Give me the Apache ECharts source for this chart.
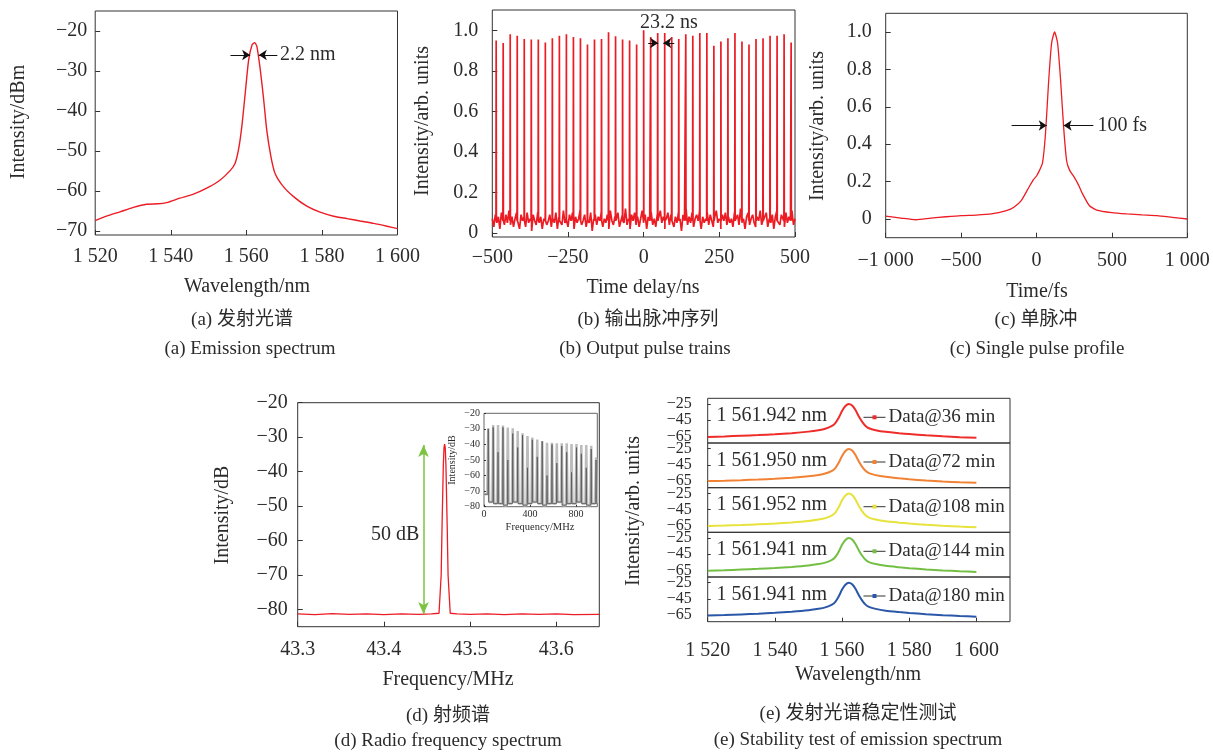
<!DOCTYPE html>
<html><head><meta charset="utf-8">
<script src="https://cdn.jsdelivr.net/npm/echarts@6/dist/echarts.min.js"></script>
<style>html,body{margin:0;padding:0;background:#fff}#c{width:1213px;height:753px}</style>
</head><body><div id="c"></div>
<script>
const SERIF = '"Liberation Serif","Times New Roman",serif';
const CJK = '"Liberation Serif","Noto Sans CJK SC",serif';
const TXT = '#2b2b2b';
const RED = '#ec1c24';

// ---------- (a) emission spectrum ----------
const aWavelength = [1520,1523,1526.6,1530.1,1533.6,1536.7,1538.9,1542.4,1546,1549.5,1553,1555.7,1557,1557.9,1558.8,1559.7,1560.6,1561.5,1562.2,1562.8,1563.7,1564.6,1565.4,1566.5,1567.6,1569.8,1572.5,1576,1579.5,1583.1,1586.6,1590.1,1593.7,1597.2,1600];
const aIntensity = [-67.4,-66.3,-65.2,-64.1,-63.3,-63.2,-62.9,-61.8,-60.8,-59.3,-57.3,-54.9,-53.1,-49.8,-43.9,-35.6,-27.3,-23.5,-22.9,-23.9,-29.8,-37.3,-44.8,-51.4,-55.6,-58.9,-61.4,-63.8,-65.3,-66.3,-66.9,-67.5,-68.1,-68.8,-69.4];
const aXTicks = [1520,1540,1560,1580,1600];
const aYTicks = [-70,-60,-50,-40,-30,-20];

// ---------- (b) output pulse train ----------
const bPulseTimes = [-487.2,-464.0,-440.8,-417.6,-394.4,-371.2,-348.0,-324.8,-301.6,-278.4,-255.2,-232.0,-208.8,-185.6,-162.4,-139.2,-116.0,-92.8,-69.6,-46.4,-23.2,0,23.2,46.4,69.6,92.8,116.0,139.2,162.4,185.6,208.8,232.0,255.2,278.4,301.6,324.8,348.0,371.2,394.4,417.6,440.8,464.0,487.2];
const bPulseHeights = [0.95,0.937,0.98,0.973,0.957,0.954,0.954,0.94,0.96,0.973,0.98,0.967,0.96,0.93,0.954,0.957,0.99,0.97,0.954,0.95,0.93,1.0,0.967,0.987,0.987,0.967,0.957,0.98,0.973,0.987,0.987,0.924,0.944,0.96,0.987,0.944,0.93,0.957,0.96,0.973,0.973,0.98,0.94];
const bNoiseStart = -500, bNoiseStep = 5;
const bNoise = [
0.07,0.03,0.09,0.05,0.08,0.02,0.10,0.06,0.04,0.09,
0.05,0.11,0.04,0.08,0.03,0.07,0.10,0.05,0.02,0.09,
0.06,0.08,0.03,0.10,0.05,0.07,0.01,0.09,0.06,0.04,
0.10,0.05,0.08,0.02,0.07,0.11,0.04,0.06,0.09,0.03,
0.07,0.05,0.10,0.02,0.08,0.06,0.04,0.11,0.05,0.07,
0.03,0.09,0.06,0.10,0.02,0.08,0.05,0.07,0.11,0.04,
0.06,0.09,0.03,0.08,0.05,0.10,0.01,0.07,0.09,0.04,
0.08,0.06,0.10,0.03,0.07,0.05,0.09,0.02,0.11,0.06,
0.04,0.08,0.07,0.10,0.03,0.06,0.09,0.05,0.12,0.04,
0.07,0.02,0.09,0.06,0.10,0.04,0.08,0.03,0.07,0.11,
0.05,0.09,0.02,0.08,0.06,0.10,0.04,0.07,0.03,0.09,
0.06,0.11,0.05,0.08,0.02,0.07,0.10,0.04,0.09,0.06,
0.03,0.08,0.05,0.10,0.07,0.01,0.09,0.06,0.12,0.04,
0.08,0.05,0.10,0.03,0.07,0.09,0.06,0.11,0.02,0.08,
0.05,0.07,0.10,0.04,0.09,0.06,0.03,0.08,0.11,0.05,
0.07,0.02,0.09,0.06,0.10,0.04,0.08,0.05,0.07,0.03,
0.10,0.06,0.09,0.04,0.12,0.05,0.07,0.02,0.08,0.10,
0.04,0.07,0.09,0.05,0.03,0.08,0.06,0.11,0.04,0.09,
0.06,0.10,0.03,0.07,0.05,0.09,0.02,0.08,0.11,0.06,
0.04,0.09,0.07,0.03,0.10,0.05,0.08,0.06,0.11,0.04,
0.07];
const bXTicks = [-500,-250,0,250,500];
const bYTicks = [0,0.2,0.4,0.6,0.8,1.0];

// ---------- (c) single pulse ----------
const cTime = [-1000,-900,-800,-700,-600,-500,-400,-300,-200,-150,-100,-50,-20,0,20,40,60,80,100,120,140,160,180,200,220,250,280,300,350,400,500,600,700,800,900,1000];
const cIntensity = [0.015,0.005,-0.004,0.005,0.012,0.018,0.021,0.027,0.045,0.063,0.10,0.17,0.21,0.23,0.26,0.30,0.46,0.73,0.94,1.0,0.94,0.74,0.49,0.31,0.26,0.224,0.18,0.143,0.072,0.048,0.034,0.027,0.022,0.018,0.009,0.0];
const cXTicks = [-1000,-500,0,500,1000];
const cYTicks = [0,0.2,0.4,0.6,0.8,1.0];

// ---------- (d) RF spectrum ----------
const dFreq = [43.30,43.32,43.34,43.36,43.38,43.40,43.42,43.44,43.455,43.464,43.4665,43.4675,43.469,43.4698,43.4705,43.4712,43.472,43.4735,43.4745,43.477,43.485,43.50,43.52,43.54,43.56,43.58,43.60,43.62,43.65];
const dIntensity = [-81.3,-81.5,-81.2,-81.4,-81.3,-81.5,-81.3,-81.4,-81.3,-81.1,-70,-56,-38,-33,-32,-33,-38,-56,-70,-81.1,-81.3,-81.4,-81.3,-81.5,-81.3,-81.4,-81.3,-81.5,-81.4];
const dXTicks = [43.3,43.4,43.5,43.6];
const dYTicks = [-80,-70,-60,-50,-40,-30,-20];
// inset: wide-span RF comb
const inFreq = [37,80,122,165,207,250,293,335,378,420,463,506,548,591,633,676,719,761,804,846,889,932,974];
const inGrayPeak = [-29.6,-27.5,-27.5,-27.8,-29.2,-29.6,-31.4,-32.9,-34.6,-35.5,-36.8,-37.8,-38.9,-38.9,-39.3,-39.3,-39.3,-39.7,-39.7,-40.4,-40.4,-40.8,-48.3];
const inDarkPeak = [-30,-29,-45,-29,-50,-33,-42,-34,-55,-37,-48,-38,-60,-40,-52,-41,-45,-58,-42,-46,-55,-43,-50];
const inBase = [-72,-77,-78,-78,-79,-78,-77,-78,-79,-78,-77,-78,-79,-78,-78,-77,-79,-78,-78,-77,-78,-79,-78,-78];
const inXTicks = [0,400,800];
const inYTicks = [-80,-70,-60,-50,-40,-30,-20];

// ---------- (e) stability test ----------
const eWavelength = [1520,1525,1530,1535,1540,1545,1550,1553,1555,1557,1558,1559,1560,1561,1562,1563,1564,1565,1566,1567,1568,1570,1573,1577,1580,1585,1590,1595,1600];
const e36  = [-65.6,-64.9,-64.1,-63.2,-62.2,-60.9,-59.0,-57.2,-55.4,-52.0,-48.5,-42.0,-33.5,-27.5,-25.0,-27.0,-32.5,-40.5,-47.0,-52.0,-54.8,-57.2,-59.3,-61.0,-62.0,-63.6,-64.8,-65.8,-66.6];
const e72  = [-64.9,-64.4,-63.7,-62.9,-62.0,-60.8,-59.0,-57.3,-55.6,-52.3,-48.8,-42.4,-34.0,-27.8,-25.3,-27.3,-32.8,-40.8,-47.3,-52.2,-55.0,-57.5,-59.6,-61.4,-62.6,-64.2,-65.4,-66.3,-67.0];
const e108 = [-65.2,-64.7,-64.0,-63.1,-62.1,-60.8,-59.0,-57.2,-55.5,-52.1,-48.6,-42.1,-33.6,-27.6,-25.1,-27.1,-32.6,-40.6,-47.1,-52.1,-54.9,-57.3,-59.4,-61.1,-62.2,-63.8,-65.0,-66.0,-66.8];
const e144 = [-65.3,-64.7,-63.9,-63.0,-62.0,-60.7,-58.9,-57.1,-55.3,-51.9,-48.4,-41.9,-33.4,-27.4,-24.9,-26.9,-32.4,-40.4,-46.9,-51.9,-54.7,-57.1,-59.3,-61.0,-62.1,-63.7,-64.9,-65.9,-66.7];
const e180 = [-65.4,-64.8,-64.0,-63.1,-62.1,-60.8,-59.0,-57.2,-55.4,-52.0,-48.5,-42.0,-33.5,-27.5,-25.0,-27.0,-32.5,-40.5,-47.0,-52.0,-54.8,-57.2,-59.4,-61.1,-62.2,-63.8,-65.0,-66.0,-66.8];
const eNames = ['Data@36 min','Data@72 min','Data@108 min','Data@144 min','Data@180 min'];
const ePeakLabels = ['1 561.942 nm','1 561.950 nm','1 561.952 nm','1 561.941 nm','1 561.941 nm'];
const eColors = ['#ee2d2a','#f18234','#e8e23c','#72bf44','#2a57a8'];
const eXTicks = [1520,1540,1560,1580,1600];
const eYTicks = [-65,-45,-25];

// ---------- helpers ----------
function fmt(v, dec) {
  let s = Math.abs(v).toFixed(dec);
  const p = s.split('.');
  p[0] = p[0].replace(/\B(?=(\d{3})+(?!\d))/g, ' ');
  s = p.join('.');
  return (v < 0 ? '\u2212' : '') + s;
}
const fmt0 = v => fmt(v, 0);
const fmt1 = v => fmt(v, 1);
const fmtU = v => (Math.abs(v) < 1e-9 ? '0' : fmt(v, 1));
const zip = (xs, ys) => xs.map((x, i) => [x, ys[i]]);

const grids = [
  {left:95.2, top:11, width:302.3, height:224},     // a
  {left:492.3, top:10, width:302.7, height:227},    // b
  {left:885.7, top:13.3, width:301.6, height:224.4},// c
  {left:297.7, top:402.7, width:301.6, height:224}, // d
  {left:484, top:413.3, width:113.3, height:93.4},  // inset
  {left:707.7, top:398.3, width:302.3, height:44.7},
  {left:707.7, top:443.0, width:302.3, height:44.7},
  {left:707.7, top:487.7, width:302.3, height:44.6},
  {left:707.7, top:532.3, width:302.3, height:44.7},
  {left:707.7, top:577.0, width:302.3, height:44.7}
].map((g, i) => Object.assign({show:true, borderColor: i === 4 ? '#666' : '#333', borderWidth:1, backgroundColor:'transparent', containLabel:false, outerBoundsMode:'none'}, g));

function axis(gridIndex, min, max, ticks, formatter, o) {
  o = o || {};
  return {
    type:'value', gridIndex, min, max, scale:true,
    axisLine:{show:false, onZero:false},
    splitLine:{show:false},
    axisTick:{show: o.tick !== false, inside:true, length: o.tickLen || 5, customValues: ticks, lineStyle:{color:'#333', width:1}},
    axisLabel:{show: o.label !== false, customValues: ticks, formatter, margin: o.margin || 10,
      hideOverlap:false, showMinLabel:true, showMaxLabel:true,
      color: TXT, fontSize: o.fs || 20, fontFamily: SERIF}
  };
}

const xAxes = [
  axis(0, 1520, 1600, aXTicks, fmt0, {margin:12}),
  axis(1, -500, 500, bXTicks, fmt0, {margin:11}),
  axis(2, -1000, 1000, cXTicks, fmt0, {margin:13}),
  axis(3, 43.3, 43.65, dXTicks, fmt1, {margin:13}),
  axis(4, 0, 985, inXTicks, fmt0, {margin:3, fs:10, tickLen:2}),
  axis(5, 1520, 1610, eXTicks, fmt0, {label:false, tick:false}),
  axis(6, 1520, 1610, eXTicks, fmt0, {label:false, tick:false}),
  axis(7, 1520, 1610, eXTicks, fmt0, {label:false, tick:false}),
  axis(8, 1520, 1610, eXTicks, fmt0, {label:false, tick:false}),
  axis(9, 1520, 1610, eXTicks, fmt0, {margin:19, tickLen:4})
];
const yAxes = [
  axis(0, -71, -15, aYTicks, fmt0, {margin:8}),
  axis(1, -0.02, 1.1, bYTicks, fmtU, {margin:14}),
  axis(2, -0.1, 1.1, cYTicks, fmtU, {margin:14}),
  axis(3, -85, -20, dYTicks, fmt0, {margin:10}),
  axis(4, -80, -20, inYTicks, fmt0, {margin:4, fs:10, tickLen:2}),
  axis(5, -73, -18, eYTicks, fmt0, {margin:16, fs:16, tickLen:3}),
  axis(6, -73, -18, eYTicks, fmt0, {margin:16, fs:16, tickLen:3}),
  axis(7, -73, -18, eYTicks, fmt0, {margin:16, fs:16, tickLen:3}),
  axis(8, -73, -18, eYTicks, fmt0, {margin:16, fs:16, tickLen:3}),
  axis(9, -73, -18, eYTicks, fmt0, {margin:16, fs:16, tickLen:3})
];

// build pulse train data
const bData = [];
bNoise.forEach((v, i) => bData.push([bNoiseStart + i * bNoiseStep, v]));
bPulseTimes.forEach((t, i) => {
  bData.push([t - 0.7, 0.06], [t, bPulseHeights[i]], [t + 0.7, 0.06]);
});
bData.sort((p, q) => p[0] - q[0]);

// inset comb data
function comb(halfWidth, peaks) {
  const out = [[0, inBase[0]]];
  inFreq.forEach((f, i) => {
    out.push([f - halfWidth, inBase[i]], [f, peaks[i]], [f + halfWidth, inBase[i + 1]]);
  });
  out.push([985, inBase[inBase.length - 1]]);
  return out;
}

function arrowLines(color, width, pairs, size) {
  return {silent:true, animation:false, symbolSize: size || 8, label:{show:false}, emphasis:{disabled:true},
    lineStyle:{color, width, type:'solid', opacity:1},
    data: pairs.map(p => [
      {coord:p[0], symbol: p[2] ? 'arrow' : 'none'},
      {coord:p[1], symbol:'arrow'}
    ])};
}
function textMark(coord, text, pos, fs) {
  return {coord, value:0, symbol:'circle', symbolSize:1, itemStyle:{color:'rgba(0,0,0,0)'},
    label:{show:true, formatter:text, position:pos || 'right', distance:0, color:TXT, fontSize: fs || 20, fontFamily:SERIF}};
}
function textMarks(items) {
  return {silent:true, animation:false, emphasis:{disabled:true}, data: items};
}

const series = [
  {name:'a', type:'line', xAxisIndex:0, yAxisIndex:0, data: zip(aWavelength, aIntensity), showSymbol:false, smooth:0.2,
   lineStyle:{color:RED, width:1.4}, itemStyle:{color:RED},
   markLine: arrowLines('#111', 1, [[[1555.8,-26],[1561.0,-26]], [[1568.2,-26],[1563.3,-26]]]),
   markPoint: textMarks([textMark([1568.8,-26], '2.2 nm')])},
  {name:'b', type:'line', xAxisIndex:1, yAxisIndex:1, data: bData, showSymbol:false, sampling:null,
   lineStyle:{color:RED, width:1.7}, itemStyle:{color:RED},
   markLine: arrowLines('#111', 1, [[[15,0.937],[48,0.937]], [[101,0.937],[65,0.937]]]),
   markPoint: textMarks([textMark([83,1.035], '23.2 ns', 'inside')])},
  {name:'c', type:'line', xAxisIndex:2, yAxisIndex:2, data: zip(cTime, cIntensity), showSymbol:false, smooth:0.2,
   lineStyle:{color:RED, width:1.3}, itemStyle:{color:RED},
   markLine: arrowLines('#111', 1, [[[-165,0.5],[68,0.5]], [[377,0.5],[180,0.5]]]),
   markPoint: textMarks([textMark([401,0.5], '100 fs')])},
  {name:'d', type:'line', xAxisIndex:3, yAxisIndex:3, data: zip(dFreq, dIntensity), showSymbol:false,
   lineStyle:{color:RED, width:1.3}, itemStyle:{color:RED},
   markLine: arrowLines('#7dc242', 1.5, [[[43.446,-32.3],[43.446,-81.3],true]], [8,12]),
   markPoint: textMarks([textMark([43.413,-58.2], '50 dB', 'inside')])},
  {name:'inset gray', type:'line', xAxisIndex:4, yAxisIndex:4, data: comb(8, inGrayPeak), showSymbol:false,
   lineStyle:{color:'#bdbdbd', width:2.5}, itemStyle:{color:'#bdbdbd'}},
  {name:'inset dark', type:'line', xAxisIndex:4, yAxisIndex:4, data: comb(3, inDarkPeak), showSymbol:false,
   lineStyle:{color:'#555', width:0.8}, itemStyle:{color:'#555'}}
];
[e36, e72, e108, e144, e180].forEach((vals, k) => {
  series.push({name: eNames[k], type:'line', xAxisIndex:5 + k, yAxisIndex:5 + k, data: zip(eWavelength, vals),
    showSymbol:false, symbol:'rect', smooth:0.2,
    lineStyle:{color:eColors[k], width:2}, itemStyle:{color:eColors[k]},
    markPoint: textMarks([textMark([1522.5,-39.5], ePeakLabels[k])])});
});

const legends = eNames.map((n, k) => ({
  data:[n], left:863, top: grids[5 + k].top + 19 - 10, orient:'horizontal', padding:0,
  itemWidth:22, itemHeight:5, itemGap:0, selectedMode:false,
  lineStyle:{color:'#333', width:1},
  textStyle:{color:TXT, fontSize:19, fontFamily:SERIF, lineHeight:20, padding:[0,0,0,-2]}
}));

function t(x, y, text, fs, rot, font) {
  return {type:'text', x, y, rotation: rot ? Math.PI / 2 : 0, silent:true,
    style:{text, fill:TXT, fontSize:fs, fontFamily: font || SERIF, align:'center', verticalAlign:'middle'}};
}
const graphics = [
  t(19, 122, 'Intensity/dBm', 20, true),
  t(247, 287, 'Wavelength/nm', 20),
  t(242, 320, '(a) 发射光谱', 19, false, CJK),
  t(250, 349, '(a) Emission spectrum', 19),
  t(423, 121, 'Intensity/arb. units', 20, true),
  t(643, 288, 'Time delay/ns', 20),
  t(648, 320, '(b) 输出脉冲序列', 19, false, CJK),
  t(645, 349, '(b) Output pulse trains', 19),
  t(818, 126, 'Intensity/arb. units', 20, true),
  t(1037, 292, 'Time/fs', 20),
  t(1036, 320, '(c) 单脉冲', 19, false, CJK),
  t(1037, 349, '(c) Single pulse profile', 19),
  t(223, 515, 'Intensity/dB', 20, true),
  t(448, 680, 'Frequency/MHz', 20),
  t(448, 716, '(d) 射频谱', 19, false, CJK),
  t(448, 741, '(d) Radio frequency spectrum', 19),
  t(452, 460, 'Intensity/dB', 10, true),
  t(540, 527, 'Frequency/MHz', 10.5),
  t(634, 511, 'Intensity/arb. units', 20, true),
  t(858, 675, 'Wavelength/nm', 20),
  t(858, 714, '(e) 发射光谱稳定性测试', 19, false, CJK),
  t(858, 740, '(e) Stability test of emission spectrum', 19)
];

const chart = echarts.init(document.getElementById('c'), null, {renderer:'canvas'});
chart.setOption({
  backgroundColor:'#fff',
  animation:false,
  textStyle:{fontFamily:SERIF},
  grid: grids, xAxis: xAxes, yAxis: yAxes, series, legend: legends, graphic: graphics
});
</script></body></html>
